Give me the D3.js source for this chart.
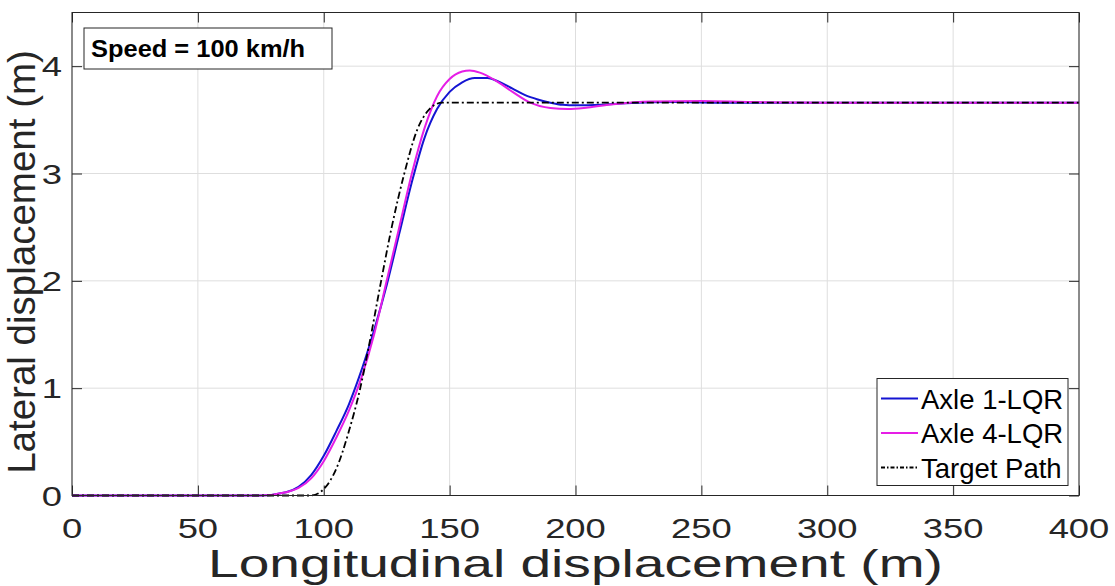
<!DOCTYPE html>
<html>
<head>
<meta charset="utf-8">
<script src="https://cdn.jsdelivr.net/npm/d3@7"></script>
<style>
  body { margin: 0; background: #fff; }
  text { font-family: "Liberation Sans", Arial, sans-serif; }
</style>
</head>
<body>
<div id="vis"><svg></svg></div>
<script>
// data
var xTicks = [0, 50, 100, 150, 200, 250, 300, 350, 400];
var yTicks = [0, 1, 2, 3, 4];

var axle1X = [0, 75, 85, 90, 95, 100, 105, 110, 114, 120, 125, 130, 135, 140, 145, 150, 155, 160, 165, 170, 175, 180, 185, 190, 195, 200, 210, 220, 240, 260, 400];
var axle1Y = [0, 0, 0.03, 0.08, 0.19, 0.37, 0.6, 0.85, 1.1, 1.54, 1.96, 2.44, 2.92, 3.33, 3.6, 3.76, 3.85, 3.89, 3.89, 3.85, 3.79, 3.73, 3.69, 3.66, 3.64, 3.635, 3.64, 3.655, 3.665, 3.66, 3.66];

var axle4X = [0, 75, 85, 90, 95, 100, 105, 110, 115, 120, 125, 130, 135, 140, 145, 150, 155, 158, 162, 168, 175, 182, 190, 197, 205, 215, 230, 250, 270, 300, 400];
var axle4Y = [0, 0, 0.03, 0.07, 0.16, 0.32, 0.54, 0.79, 1.1, 1.5, 2.0, 2.5, 3.0, 3.42, 3.72, 3.88, 3.95, 3.96, 3.94, 3.87, 3.76, 3.66, 3.61, 3.6, 3.615, 3.645, 3.67, 3.675, 3.665, 3.66, 3.66];

var targetX = [0, 95, 100, 105, 110, 114.5, 118, 122.8, 127, 132, 137, 142, 147, 400];
var targetY = [0, 0, 0.06, 0.25, 0.6, 1.0, 1.4, 2.0, 2.5, 3.0, 3.4, 3.6, 3.66, 3.66];

var seriesNames = ["Axle 1-LQR", "Axle 4-LQR", "Target Path"];
var seriesColors = ["#1414d2", "#e61ee6", "#000000"];

var margin = {top: 12.5, right: 36, bottom: 90.5, left: 72},
    width = 1115 - margin.left - margin.right,
    height = 586 - margin.top - margin.bottom;

var svg = d3.select("#vis").select("svg")
    .attr("width", 1115)
    .attr("height", 586);

var g = svg.append("g")
    .attr("transform", "translate(" + margin.left + "," + margin.top + ")");

var x = d3.scaleLinear().domain([0, 400]).range([0, width]);
var y = d3.scaleLinear().domain([0, 4.5]).range([height, 0]);

// grid
g.selectAll(".gx").data(xTicks).enter().append("line")
    .attr("x1", function(d) { return x(d); }).attr("x2", function(d) { return x(d); })
    .attr("y1", 0).attr("y2", height)
    .style("stroke", "#dedede").style("stroke-width", 1);
g.selectAll(".gy").data(yTicks).enter().append("line")
    .attr("y1", function(d) { return y(d); }).attr("y2", function(d) { return y(d); })
    .attr("x1", 0).attr("x2", width)
    .style("stroke", "#dedede").style("stroke-width", 1);

// axes with inward ticks on all four sides
function styleAxis(sel) {
  sel.select(".domain").remove();
  sel.selectAll("line").style("stroke", "#262626");
  sel.selectAll("text").remove();
}
g.append("g").attr("transform", "translate(0," + height + ")")
  .call(d3.axisBottom(x).tickValues(xTicks).tickSizeInner(-10).tickSizeOuter(0)).call(styleAxis);
g.append("g")
  .call(d3.axisTop(x).tickValues(xTicks).tickSizeInner(-10).tickSizeOuter(0)).call(styleAxis);
g.append("g")
  .call(d3.axisLeft(y).tickValues(yTicks).tickSizeInner(-10).tickSizeOuter(0)).call(styleAxis);
g.append("g").attr("transform", "translate(" + width + ",0)")
  .call(d3.axisRight(y).tickValues(yTicks).tickSizeInner(-10).tickSizeOuter(0)).call(styleAxis);

// tick labels (picture is stretched sideways)
g.selectAll(".xl").data(xTicks).enter().append("text")
    .attr("transform", function(d) { return "translate(" + x(d) + "," + (height + 42) + ") scale(1.3,1)"; })
    .attr("text-anchor", "middle")
    .style("font-size", "28px").style("fill", "#262626")
    .text(function(d) { return d; });
g.selectAll(".yl").data(yTicks).enter().append("text")
    .attr("transform", function(d) { return "translate(-10," + (y(d) + 10) + ") scale(1.3,1)"; })
    .attr("text-anchor", "end")
    .style("font-size", "28px").style("fill", "#262626")
    .text(function(d) { return d; });

// axis titles
g.append("text")
    .attr("transform", "translate(" + (width / 2) + "," + (height + 81) + ") scale(1.45,1)")
    .attr("text-anchor", "middle")
    .style("font-size", "38px").style("fill", "#262626")
    .text("Longitudinal displacement (m)");
g.append("text")
    .attr("transform", "translate(-37," + (height / 2 + 8) + ") rotate(-90)")
    .attr("text-anchor", "middle")
    .style("font-size", "38.5px").style("fill", "#262626")
    .text("Lateral displacement (m)");

// lines
var line = d3.line()
  .x(function(d) { return x(d[0]); })
  .y(function(d) { return y(d[1]); })
  .curve(d3.curveMonotoneX);

var allSeries = [
  {name: seriesNames[0], values: d3.zip(axle1X, axle1Y)},
  {name: seriesNames[1], values: d3.zip(axle4X, axle4Y)},
  {name: seriesNames[2], values: d3.zip(targetX, targetY)}
];

g.selectAll(".curve").data(allSeries).enter().append("path")
    .attr("d", function(d) { return line(d.values); })
    .style("fill", "none")
    .style("stroke", function(d, i) { return seriesColors[i]; })
    .style("stroke-width", function(d, i) { return i == 2 ? 1.8 : 2; })
    .style("stroke-dasharray", function(d, i) { return i == 2 ? "7,3,2,3" : null; });

// box
g.append("rect")
    .attr("width", width).attr("height", height)
    .style("fill", "none").style("stroke", "#262626").style("stroke-width", 1);

// speed label
g.append("rect")
    .attr("x", 12).attr("y", 15.5).attr("width", 248).attr("height", 41)
    .style("fill", "#fff").style("stroke", "#262626").style("stroke-width", 1);
g.append("text")
    .attr("transform", "translate(19,44.5) scale(1.06,1)")
    .style("font-size", "24px").style("font-weight", "bold").style("fill", "#000")
    .text("Speed = 100 km/h");

// legend
var leg = g.append("g").attr("transform", "translate(" + (width - 202) + "," + (height - 117) + ")");
leg.append("rect")
    .attr("width", 191).attr("height", 107)
    .style("fill", "#fff").style("stroke", "#262626").style("stroke-width", 1);
var items = leg.selectAll(".item").data(allSeries).enter().append("g")
    .attr("transform", function(d, i) { return "translate(0," + (20 + i * 34.5) + ")"; });
items.append("line")
    .attr("x1", 4).attr("x2", 41).attr("y1", 0).attr("y2", 0)
    .style("stroke", function(d, i) { return seriesColors[i]; })
    .style("stroke-width", function(d, i) { return i == 2 ? 1.8 : 2; })
    .style("stroke-dasharray", function(d, i) { return i == 2 ? "4,2,1.5,2" : null; });
items.append("text")
    .attr("x", 44).attr("y", 10)
    .style("font-size", "27.5px").style("fill", "#000")
    .text(function(d) { return d.name; });
</script>
</body>
</html>
